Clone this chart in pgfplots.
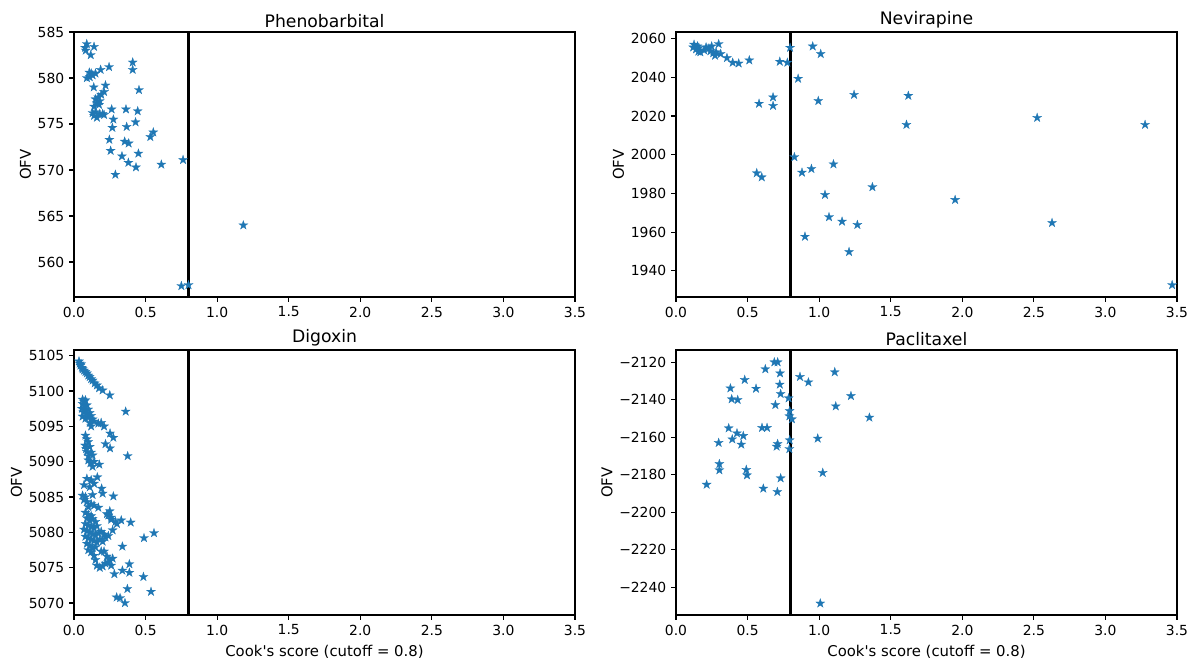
\documentclass[border=0pt]{standalone}
\usepackage{fontspec}
\setmainfont{DejaVu Sans}[Ligatures=TeXOff]
\usepackage{pgfplots}
\pgfplotsset{compat=1.18}
\definecolor{mplblue}{RGB}{31,119,180}

% filled five-pointed star like matplotlib's '*'
\pgfdeclareplotmark{fstar}{%
  \pgfpathmoveto{\pgfpointpolar{90}{\pgfplotmarksize}}%
  \pgfpathlineto{\pgfpointpolar{126}{0.382\pgfplotmarksize}}%
  \pgfpathlineto{\pgfpointpolar{162}{\pgfplotmarksize}}%
  \pgfpathlineto{\pgfpointpolar{198}{0.382\pgfplotmarksize}}%
  \pgfpathlineto{\pgfpointpolar{234}{\pgfplotmarksize}}%
  \pgfpathlineto{\pgfpointpolar{270}{0.382\pgfplotmarksize}}%
  \pgfpathlineto{\pgfpointpolar{306}{\pgfplotmarksize}}%
  \pgfpathlineto{\pgfpointpolar{342}{0.382\pgfplotmarksize}}%
  \pgfpathlineto{\pgfpointpolar{18}{\pgfplotmarksize}}%
  \pgfpathlineto{\pgfpointpolar{54}{0.382\pgfplotmarksize}}%
  \pgfpathclose
  \pgfusepathqfillstroke
}

\pgfplotsset{
  cookax/.style={
    width=360.72pt, height=190.8pt, scale only axis,
    xmin=0, xmax=3.5, xtick={0,0.5,...,3.5},
    xticklabel style={/pgf/number format/.cd, fixed, fixed zerofill, precision=1},
    tick align=outside, xtick pos=bottom, ytick pos=left,
    major tick length=3.5pt,
    every tick/.style={black, line width=0.8pt},
    axis line style={line width=0.8pt},
    ticklabel style={font=\fontsize{10}{12}\selectfont},
    /pgf/number format/assume math mode=true,
    /pgf/number format/1000 sep={},
    ylabel={OFV},
    label style={font=\fontsize{10.7}{13}\selectfont},
    ylabel style={yshift=-2pt},
    title style={font=\fontsize{12.4}{15}\selectfont, yshift=-6.5pt},
    clip=false,
  },
  pts/.style={only marks, mark=fstar, mark size=3.4pt,
    mark options={fill=mplblue, draw=mplblue, line width=0.2pt}},
  cut/.style={black, line width=1.5pt},
}

\begin{document}
\begin{tikzpicture}
\useasboundingbox (0,0) rectangle (861.84pt,-476.64pt);

% Phenobarbital
\begin{axis}[cookax, at={(53.28pt,-23.04pt)}, anchor=north west,
  title={Phenobarbital}, ymin=556.2, ymax=585, ytick={560,565,...,585}]
\addplot[cut] coordinates {(0.8,556.2) (0.8,585)};
\addplot[pts] coordinates {
(0.089,583.7) (0.077,583.3) (0.082,583.0) (0.14,583.4) (0.117,582.5)
(0.245,581.2) (0.186,580.9) (0.41,581.7) (0.41,580.9)
(0.107,580.6) (0.12,580.5) (0.13,580.3) (0.09,580.0) (0.11,580.1) (0.15,580.5)
(0.138,579.0) (0.22,579.2) (0.454,578.7)
(0.21,578.5) (0.19,578.2) (0.17,577.9) (0.15,577.7) (0.18,577.5) (0.175,577.1) (0.16,577.3)
(0.14,576.9) (0.263,576.6) (0.363,576.6) (0.445,576.4)
(0.13,576.2) (0.15,576.3) (0.18,576.1) (0.21,576.0) (0.14,575.9) (0.16,575.7) (0.2,576.1)
(0.275,575.5) (0.43,575.2) (0.268,574.6) (0.368,574.7)
(0.554,574.1) (0.533,573.6) (0.247,573.3) (0.354,573.1) (0.382,572.9)
(0.256,572.1) (0.335,571.5) (0.45,571.8) (0.38,570.8) (0.433,570.3)
(0.61,570.6) (0.762,571.1) (0.289,569.5)
(1.183,564.0) (0.75,557.4) (0.80,557.5)
};
\end{axis}

% Nevirapine
\begin{axis}[cookax, at={(486.72pt,-23.04pt)}, anchor=north west,
  title={Nevirapine}, ymin=1926.5, ymax=2063.4, ytick={1940,1960,...,2060}]
\addplot[cut] coordinates {(0.8,1926.5) (0.8,2063.4)};
\addplot[pts] coordinates {
(0.126,2056.9) (0.12,2055.5) (0.14,2054.5) (0.15,2056.0) (0.16,2055.2) (0.17,2053.0)
(0.156,2053.3) (0.196,2054.0) (0.21,2055.5) (0.23,2055.0) (0.249,2056.0) (0.24,2053.5)
(0.26,2052.5) (0.273,2051.2) (0.28,2053.0) (0.298,2057.2) (0.312,2052.1)
(0.356,2050.0) (0.396,2047.6) (0.438,2047.2) (0.512,2048.8)
(0.725,2048.1) (0.778,2047.6) (0.797,2055.3) (0.955,2056.0) (1.011,2052.1)
(0.853,2039.3) (0.58,2026.4) (0.678,2029.7) (0.678,2025.3) (0.994,2027.8)
(1.244,2031.0) (1.623,2030.5) (1.61,2015.5)
(0.827,1998.8) (0.88,1990.8) (0.946,1992.7) (1.10,1995.1)
(0.564,1990.5) (0.599,1988.4) (1.372,1983.3) (1.041,1979.3)
(1.069,1967.8) (1.16,1965.5) (1.267,1963.8) (0.901,1957.7) (1.209,1949.8)
(1.95,1976.7) (2.523,2019.1) (2.627,1964.8) (3.277,2015.5) (3.466,1932.7)
};
\end{axis}

% Digoxin
\begin{axis}[cookax, at={(53.28pt,-252pt)}, anchor=north west,
  title={Digoxin}, xlabel={Cook's score (cutoff = 0.8)},
  ymin=5068.3, ymax=5105.8, ytick={5070,5075,...,5105}]
\addplot[cut] coordinates {(0.8,5068.3) (0.8,5105.8)};
\addplot[pts] coordinates {
(0.035,5104.2) (0.04,5103.9) (0.045,5103.6) (0.05,5103.8) (0.055,5103.3) (0.06,5103.1)
(0.07,5102.9) (0.08,5102.7) (0.09,5102.5) (0.1,5102.2) (0.11,5102.0) (0.12,5101.7)
(0.13,5101.5) (0.145,5101.1) (0.16,5100.8) (0.175,5100.4) (0.2,5100.1) (0.25,5099.4)
(0.06,5098.8) (0.07,5098.5) (0.08,5098.7) (0.06,5098.2) (0.075,5097.9) (0.09,5098.0)
(0.055,5097.5) (0.08,5097.3) (0.1,5097.4) (0.065,5097.0) (0.09,5096.8) (0.11,5096.9)
(0.06,5096.4) (0.1,5096.3) (0.12,5096.5) (0.13,5096.0) (0.08,5096.1) (0.14,5095.7)
(0.11,5095.5) (0.17,5095.4) (0.19,5095.5) (0.21,5095.0) (0.12,5095.0) (0.361,5097.1)
(0.252,5094.0) (0.275,5093.4) (0.252,5091.9) (0.375,5090.8) (0.22,5092.5)
(0.08,5093.7) (0.09,5093.2) (0.1,5092.8) (0.077,5092.3) (0.11,5092.1) (0.085,5091.8)
(0.09,5091.4) (0.12,5091.3) (0.1,5090.8) (0.13,5090.9) (0.1,5090.2) (0.14,5090.0)
(0.115,5089.8) (0.177,5089.6) (0.13,5089.3)
(0.163,5087.8) (0.09,5087.6) (0.12,5087.4) (0.07,5086.7) (0.14,5086.9) (0.11,5086.4)
(0.193,5086.2) (0.2,5085.5) (0.275,5085.1) (0.06,5085.2) (0.08,5085.0) (0.13,5085.3)
(0.07,5084.6) (0.09,5084.3) (0.12,5084.0) (0.14,5083.8) (0.17,5083.5) (0.1,5083.6)
(0.08,5082.8) (0.1,5082.5) (0.12,5082.3) (0.09,5082.0) (0.11,5081.7) (0.13,5081.9)
(0.15,5081.5) (0.08,5081.2) (0.1,5081.0) (0.12,5080.8) (0.14,5080.6) (0.16,5080.9)
(0.07,5080.4) (0.09,5080.2) (0.11,5080.0) (0.13,5079.8) (0.15,5079.6) (0.17,5079.9)
(0.19,5080.1) (0.21,5079.7) (0.08,5079.4) (0.1,5079.2) (0.12,5079.0) (0.14,5078.8)
(0.16,5078.6) (0.18,5079.0) (0.2,5078.7) (0.22,5079.3) (0.24,5079.5) (0.09,5078.4)
(0.11,5078.1) (0.13,5077.8) (0.1,5077.5) (0.15,5077.9) (0.12,5077.2) (0.14,5076.7)
(0.19,5077.3) (0.21,5077.3) (0.559,5079.9) (0.489,5079.2) (0.338,5078.0)
(0.29,5081.5) (0.27,5080.3) (0.3,5081.2) (0.26,5081.8) (0.23,5082.6) (0.33,5081.7)
(0.26,5082.1) (0.396,5081.4) (0.25,5083.0) (0.24,5082.4)
(0.23,5076.6) (0.25,5076.1) (0.27,5076.3) (0.22,5075.6) (0.24,5075.8) (0.2,5075.2)
(0.18,5075.0) (0.16,5075.3) (0.15,5076.1) (0.387,5075.5) (0.338,5074.6)
(0.387,5074.3) (0.282,5074.1) (0.485,5073.7) (0.373,5072.0) (0.538,5071.6)
(0.298,5070.8) (0.322,5070.7) (0.356,5070.0) (0.26,5075.3)
};
\end{axis}

% Paclitaxel
\begin{axis}[cookax, at={(486.72pt,-252pt)}, anchor=north west,
  title={Paclitaxel}, xlabel={Cook's score (cutoff = 0.8)},
  ymin=-2254.9, ymax=-2113.5, ytick={-2240,-2220,...,-2120},
  yticklabels={−2240,−2220,−2200,−2180,−2160,−2140,−2120}]
\addplot[cut] coordinates {(0.8,-2254.9) (0.8,-2113.5)};
\addplot[pts] coordinates {
(0.687,-2120.0) (0.71,-2120.0) (0.624,-2123.7) (0.727,-2125.9) (0.48,-2129.4)
(0.866,-2127.8) (1.109,-2125.3) (0.925,-2130.7) (0.38,-2133.9) (0.559,-2134.1)
(0.725,-2131.9) (0.731,-2136.9) (0.389,-2139.7) (0.431,-2140.1) (0.787,-2139.2)
(0.694,-2142.8) (1.222,-2138.0) (1.116,-2143.5) (0.794,-2146.0) (0.792,-2148.8)
(0.81,-2150.4) (1.351,-2149.5) (0.368,-2155.2) (0.601,-2155.0) (0.636,-2155.0)
(0.426,-2157.9) (0.47,-2159.3) (0.393,-2161.1) (0.298,-2163.0) (0.456,-2163.9)
(0.71,-2163.6) (0.703,-2165.0) (0.794,-2161.6) (0.792,-2166.3) (0.99,-2160.7)
(0.303,-2174.3) (0.303,-2177.6) (0.491,-2177.4) (0.496,-2180.3) (1.025,-2179.0)
(0.731,-2181.9) (0.214,-2185.3) (0.61,-2187.4) (0.708,-2189.2) (1.008,-2248.7)
};
\end{axis}
\end{tikzpicture}
\end{document}
